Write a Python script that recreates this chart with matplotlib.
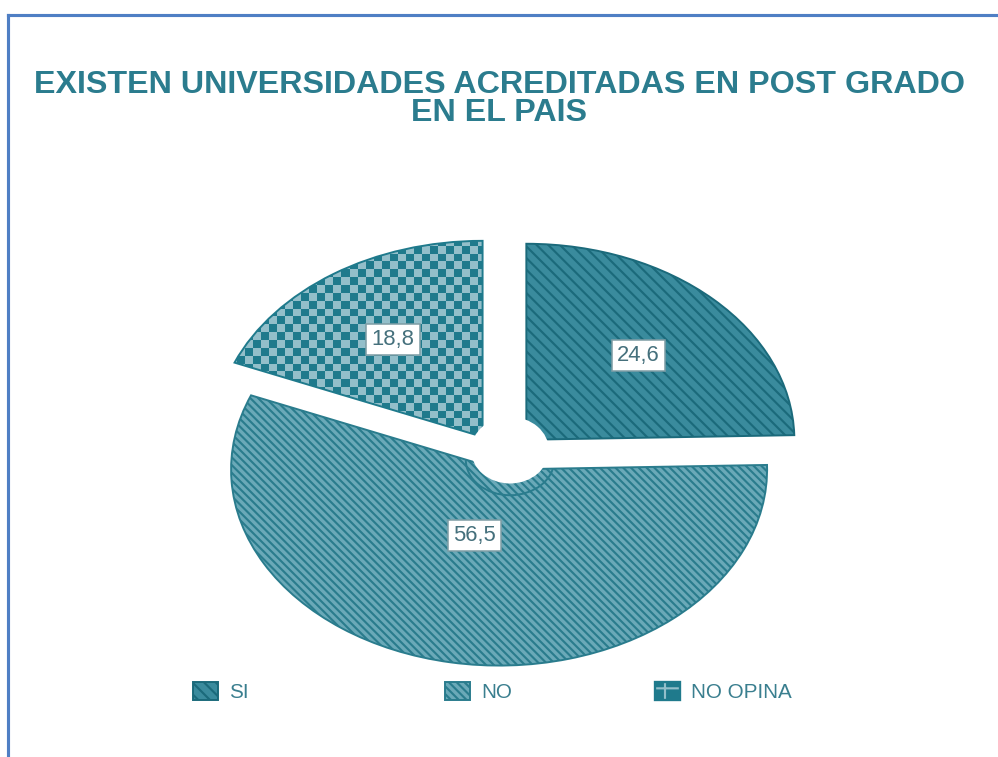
import numpy as np
import matplotlib.pyplot as plt
from matplotlib.patches import Ellipse, Patch
from matplotlib.lines import Line2D
from matplotlib.colors import ListedColormap

# data
labels = ['SI', 'NO', 'NO OPINA']
values = [24.6, 56.5, 18.8]
value_text = ['24,6', '56,5', '18,8']
title = 'EXISTEN UNIVERSIDADES ACREDITADAS EN POST GRADO\nEN EL PAIS'

teal_text = '#2b7c8e'
face = ['#3a8b9d', '#6aa9b8', 'none']
edge = ['#1b6a7b', '#2a7c8d', '#1f7a8c']
hatches = ['\\\\\\\\', '\\\\\\\\\\\\', None]
check_light, check_dark = '#93bfca', '#1f7a8c'

plt.rcParams['font.family'] = ['Liberation Sans', 'DejaVu Sans']
plt.rcParams['hatch.linewidth'] = 1.1

DPI = 140
W, H = 998, 757
fig = plt.figure(figsize=(W / DPI, H / DPI), dpi=DPI)

# axes box in pixels and pie centre / radii (flattened pie)
x0, x1, y0, y1 = 100, 900, 180, 700
cx, cy = 502, 458
rx, ry = 268, 196
ax = fig.add_axes([x0 / W, 1 - y1 / H, (x1 - x0) / W, (y1 - y0) / H])

wedges, texts = ax.pie(values, labels=value_text, startangle=90, counterclock=False,
                       explode=[0.13, 0.06, 0.13], labeldistance=0.6,
                       wedgeprops=dict(linewidth=1.0),
                       textprops=dict(fontsize=11.3, color='#45707c'))
for w, fc, ec, ht in zip(wedges, face, edge, hatches):
    w.set_facecolor(fc)
    w.set_edgecolor(ec)
    w.set_hatch(ht)

# checkerboard texture for NO OPINA, clipped to its wedge
checker = np.add.outer(np.arange(40), np.arange(60)) % 2
im = ax.imshow(checker, cmap=ListedColormap([check_light, check_dark]),
               extent=(-1.5, 0.3, -0.2, 1.4), aspect='auto',
               interpolation='nearest', zorder=0.5)
im.set_clip_path(wedges[2])

for t in texts:
    t.set_ha('center')
    t.set_va('center')
    t.set_bbox(dict(facecolor='white', edgecolor='#7f9ea6', linewidth=0.8, pad=2.6))
    t.set_zorder(5)
# NO label sits closer to its wedge centre
x, y = texts[1].get_position()
texts[1].set_position((x * 0.61 - 0.03, y * 0.61))

# centre hole, with the faint inner rim of the NO slice just below it
rim = Ellipse((0.03, -0.01), 0.33, 0.36, facecolor='none', edgecolor=edge[1],
              linewidth=1.0, zorder=1.5)
ax.add_patch(rim)
rim.set_clip_path(wedges[1])
ax.add_patch(Ellipse((0.03, 0.04), 0.29, 0.34, facecolor='white', edgecolor='none', zorder=2))

ax.set_aspect('auto')
ax.set_xlim((x0 - cx) / rx, (x1 - cx) / rx)
ax.set_ylim((cy - y1) / ry, (cy - y0) / ry)
ax.axis('off')

fig.text(0.5, 1 - 99 / H, title, ha='center', va='center', fontsize=16.6,
         fontweight='bold', color=teal_text, linespacing=0.9)

# legend, one entry per slot
handles = [Patch(facecolor=face[0], edgecolor=edge[0], hatch=hatches[0]),
           Patch(facecolor=face[1], edgecolor=edge[1], hatch=hatches[1]),
           (Patch(facecolor=check_dark, edgecolor=check_light, hatch='+'),
            Patch(facecolor='none', edgecolor=check_dark, linewidth=1.2))]
slots = [193, 445, 655]
for h, lab, xs in zip(handles, labels, slots):
    fig.legend(handles=[h], labels=[lab], loc='center left',
               bbox_to_anchor=(xs / W, 1 - 692 / H), frameon=False,
               borderpad=0, borderaxespad=0, handlelength=1.2, handleheight=1.0,
               handletextpad=0.55, prop=dict(size=10.6), labelcolor='#3a7f8f')

# blue frame lines (top and left)
fig.add_artist(Line2D([8 / W, 1], [1 - 15 / H, 1 - 15 / H], color='#4f7fc4', lw=1.6))
fig.add_artist(Line2D([8 / W, 8 / W], [0, 1 - 15 / H], color='#4f7fc4', lw=1.6))

fig.savefig('out.png', dpi=DPI, facecolor='white')
